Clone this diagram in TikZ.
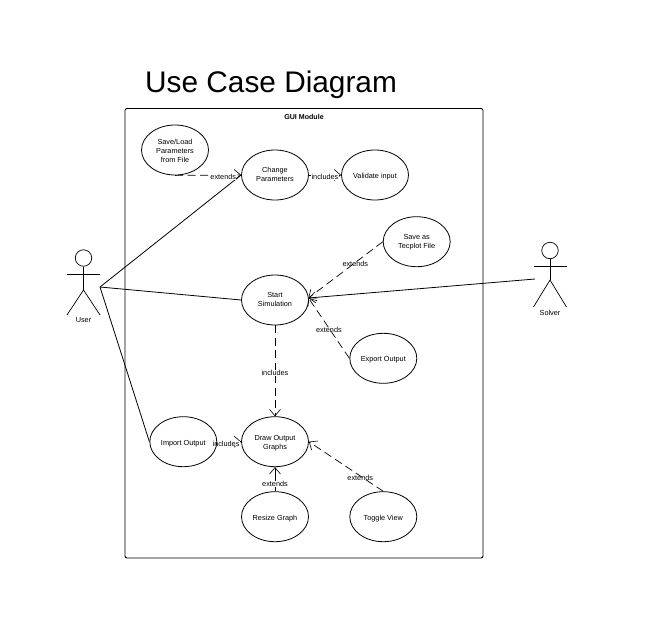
\documentclass[tikz,border=0pt]{standalone}
\usepackage{fontspec}
\setmainfont{Liberation Sans}
\usetikzlibrary{shapes.geometric,arrows.meta}
\pgfdeclarelayer{connectors}
\pgfsetlayers{connectors,main}
\newcommand{\casetext}[2][-1.2pt]{\raisebox{#1}[\height][\depth]{\begin{tabular}{@{}c@{}}#2\end{tabular}}}
\tikzset{
  usecase/.style={draw=black,ellipse,minimum width=67pt,minimum height=50pt,inner sep=0pt,font=\fontsize{7.3}{9}\selectfont,line width=0.8pt},
  lbl/.style={font=\fontsize{7.3}{9}\selectfont,inner sep=0.3pt,yshift=-1.8pt},
  gaplbl/.style={lbl,fill=white},
  caption/.style={font=\fontsize{7.3}{9}\selectfont,inner sep=0pt},
  head/.style={draw=black,circle,minimum size=16.5pt,inner sep=0pt,line width=0.7pt},
  limb/.style={draw=black,line width=0.7pt},
  assoc/.style={draw=black,line width=0.8pt},
  depend/.style={draw=black,line width=0.7pt,dash pattern=on 8pt off 4.5pt,-{Straight Barb[length=6.5pt,width=11pt,line width=0.6pt]}},
  solidarrow/.style={draw=black,line width=0.8pt,-{Straight Barb[length=6.5pt,width=11pt,line width=0.6pt]}}
}
\begin{document}
\begin{tikzpicture}[x=1pt,y=-1pt]
\begin{pgfonlayer}{connectors}
\useasboundingbox[fill=white] (0,0) rectangle (649,630);
\end{pgfonlayer}
\node[font=\fontsize{29.8}{34}\selectfont,inner sep=0pt,anchor=base west] (title) at (145,92) {Use Case Diagram};
\draw[line width=0.9pt,rounded corners=2pt] (125,108.5) rectangle (483,558);
\node[font=\bfseries\fontsize{7.1}{9}\selectfont,inner sep=0pt] (module) at (304,117) {GUI Module};

\node[usecase] (save) at (175,150) {\casetext{Save/Load\\Parameters\\from File}};
\node[usecase] (change) at (275,175) {\casetext[-0.3pt]{Change\\Parameters}};
\node[usecase] (validate) at (375,175) {\casetext[-1.8pt]{Validate input}};
\node[usecase] (tecplot) at (416.7,241.7) {\casetext[-0.8pt]{Save as\\Tecplot File}};
\node[usecase] (start) at (275,300) {\casetext[-0.3pt]{Start\\Simulation}};
\node[usecase] (export) at (383.3,358.3) {\casetext[-1.8pt]{Export Output}};
\node[usecase] (import) at (183.3,441.7) {\casetext[-1.8pt]{Import Output}};
\node[usecase] (draw) at (275,441.7) {\casetext[-1.6pt]{Draw Output\\Graphs}};
\node[usecase] (resize) at (275,516.7) {\casetext[-1.8pt]{Resize Graph}};
\node[usecase] (toggle) at (383.3,516.7) {\casetext[-1.8pt]{Toggle View}};

% User actor
\node[head] (uhead) at (83.5,258) {};
\coordinate (uhip) at (83.5,290);
\coordinate (uarml) at (67,274.5);
\coordinate (uarmr) at (100,274.5);
\coordinate (ulegl) at (67,315);
\coordinate (ulegr) at (100,315);
\coordinate (uhand) at (100,287);
\draw[limb] (uhead.south) -- (uhip);
\draw[limb] (uarml) -- (uarmr);
\draw[limb] (ulegl) -- (uhip) -- (ulegr);
\node[caption] (ulabel) at (83.5,320.5) {User};

% Solver actor
\node[head] (shead) at (550,250.5) {};
\coordinate (ship) at (550,280);
\coordinate (sarml) at (533.5,266);
\coordinate (sarmr) at (566.5,266);
\coordinate (slegl) at (533.5,307);
\coordinate (slegr) at (566.5,307);
\coordinate (shand) at (535,279);
\draw[limb] (shead.south) -- (ship);
\draw[limb] (sarml) -- (sarmr);
\draw[limb] (slegl) -- (ship) -- (slegr);
\node[caption] (slabel) at (550,312.5) {Solver};

\coordinate (starthub) at (308.5,298);

\begin{pgfonlayer}{connectors}
% Associations
\draw[assoc] (uhand) -- (change.west);
\draw[assoc] (uhand) -- (start.west);
\draw[assoc] (uhand) -- (import.west);
\draw[solidarrow] (shand) -- (starthub);

% Dependencies
\draw[depend] (save.south) -- (change.west) node[gaplbl,pos=0.73] {extends};
\draw[depend] (change.east) -- (validate.west) node[gaplbl,midway] {includes};
\draw[depend] (tecplot.west) -- (starthub) node[lbl,pos=0.37] {extends};
\draw[depend] (export.west) -- (starthub) node[lbl,pos=0.5] {extends};
\draw[depend] (start.south) -- (draw.north) node[gaplbl,midway] {includes};
\draw[depend] (import.east) -- (draw.west) node[gaplbl,pos=0.37] {includes};
\draw[solidarrow] (resize.north) -- (draw.south) node[gaplbl,pos=0.39] {extends};
\draw[depend] (toggle.north) -- (draw.east) node[lbl,pos=0.31] {extends};
\end{pgfonlayer}
\end{tikzpicture}
\end{document}
